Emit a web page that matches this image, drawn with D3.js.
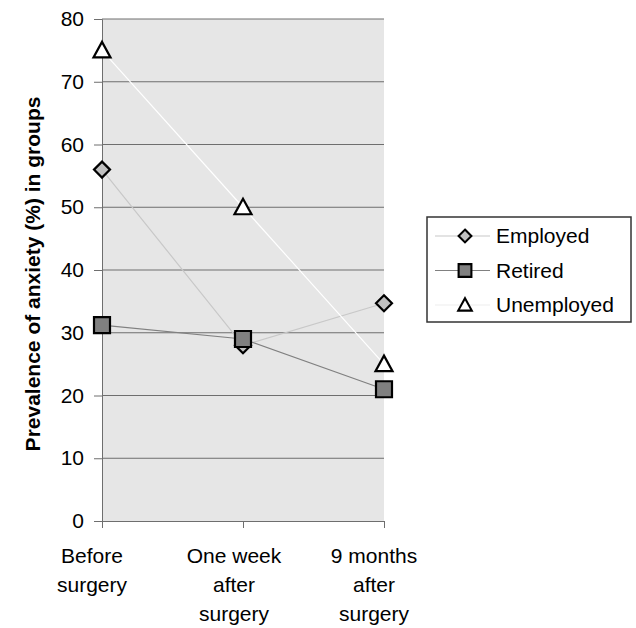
<!DOCTYPE html>
<html>
<head>
<meta charset="utf-8">
<script src="https://cdn.jsdelivr.net/npm/d3@7/dist/d3.min.js"></script>
<style>
  body { margin: 0; background: #fff; }
  svg text { font-family: "Liberation Sans", Arial, sans-serif; fill: #000; }
</style>
</head>
<body>
<svg id="chart" width="636" height="628"></svg>
<script>
// Anxiety prevalence (%) by employment group at three time points
const categories = [
  ["Before", "surgery"],
  ["One week", "after", "surgery"],
  ["9 months", "after", "surgery"]
];
const employed   = [56, 28, 34.7];
const retired    = [31.2, 29, 21];
const unemployed = [75, 50, 25];
const yTicks = [0, 10, 20, 30, 40, 50, 60, 70, 80];

const series = [
  { name: "Employed",   values: employed,   line: "#c8c8c8", fill: "#c0c0c0", shape: "diamond" },
  { name: "Retired",    values: retired,    line: "#808080", fill: "#808080", shape: "square" },
  { name: "Unemployed", values: unemployed, line: "#ffffff", fill: "#ffffff", shape: "triangle" }
];

const svg = d3.select("#chart");
const plot = { left: 102, right: 384, top: 19, bottom: 521 };
const fontSize = 21;

const x = d3.scalePoint()
  .domain(d3.range(categories.length))
  .range([plot.left, plot.right]);
const y = d3.scaleLinear().domain([0, 80]).range([plot.bottom, plot.top]);

// plot background
svg.append("rect")
  .attr("x", plot.left).attr("y", plot.top)
  .attr("width", plot.right - plot.left).attr("height", plot.bottom - plot.top)
  .attr("fill", "#e6e6e6");

// horizontal gridlines
svg.append("g").selectAll("line").data(yTicks.filter(d => d > 0)).join("line")
  .attr("x1", plot.left).attr("x2", plot.right)
  .attr("y1", d => y(d)).attr("y2", d => y(d))
  .attr("stroke", "#6e6e6e").attr("stroke-width", 1);

// y axis
const yAxis = svg.append("g")
  .attr("transform", `translate(${plot.left},0)`)
  .call(d3.axisLeft(y).tickValues(yTicks).tickSize(8).tickPadding(10));
yAxis.select(".domain").attr("stroke", "#6e6e6e");
yAxis.selectAll(".tick line").attr("stroke", "#6e6e6e");
yAxis.selectAll(".tick text").attr("font-size", fontSize).attr("fill", "#000");

// x axis
const xAxis = svg.append("g")
  .attr("transform", `translate(0,${plot.bottom})`)
  .call(d3.axisBottom(x).tickSize(7).tickSizeOuter(0).tickFormat(""));
xAxis.select(".domain").attr("stroke", "#6e6e6e");
xAxis.selectAll(".tick line").attr("stroke", "#6e6e6e");

const labelShift = [-10, -9, -10];
const xl = svg.append("g").selectAll("text").data(categories).join("text")
  .attr("text-anchor", "middle")
  .attr("font-size", fontSize)
  .attr("x", (d, i) => x(i) + labelShift[i])
  .attr("y", plot.bottom + 42);
xl.selectAll("tspan").data(d => d).join("tspan")
  .attr("x", function () { return d3.select(this.parentNode).attr("x"); })
  .attr("dy", (d, i) => i === 0 ? 0 : 29)
  .text(d => d);

// y axis title
svg.append("text")
  .attr("transform", `translate(40,${(plot.top + plot.bottom) / 2 + 4}) rotate(-90)`)
  .attr("text-anchor", "middle")
  .attr("font-size", 21)
  .attr("font-weight", "bold")
  .text("Prevalence of anxiety (%) in groups");

// marker path generators
function markerPath(shape) {
  if (shape === "diamond") return "M0,-8L8,0L0,8L-8,0Z";
  if (shape === "square") return "M-8,-8H8V8H-8Z";
  return "M0,-8.5L8.5,7L-8.5,7Z";
}

const line = d3.line().x((d, i) => x(i)).y(d => y(d));

series.forEach(s => {
  svg.append("path")
    .attr("d", line(s.values))
    .attr("fill", "none")
    .attr("stroke", s.line)
    .attr("stroke-width", 1.2);
});
series.forEach(s => {
  svg.append("g").selectAll("path").data(s.values).join("path")
    .attr("transform", (d, i) => `translate(${x(i)},${y(d)})`)
    .attr("d", markerPath(s.shape))
    .attr("fill", s.fill)
    .attr("stroke", "#000")
    .attr("stroke-width", 2.2)
    .attr("stroke-linejoin", "miter");
});

// legend
const legend = svg.append("g").attr("transform", "translate(427,217)");
legend.append("rect")
  .attr("x", 0).attr("y", 0).attr("width", 204).attr("height", 105)
  .attr("fill", "#fff").attr("stroke", "#333").attr("stroke-width", 1.5);
const items = legend.selectAll("g.item").data(series).join("g")
  .attr("class", "item")
  .attr("transform", (d, i) => `translate(0,${19 + i * 34.5})`);
items.append("line")
  .attr("x1", 8).attr("x2", 63)
  .attr("stroke", d => d.line === "#ffffff" ? "#eeeeee" : d.line)
  .attr("stroke-width", 1.2);
items.append("path")
  .attr("transform", "translate(38,0) scale(0.8)")
  .attr("d", d => markerPath(d.shape))
  .attr("fill", d => d.fill)
  .attr("stroke", "#000")
  .attr("stroke-width", 2.6);
items.append("text")
  .attr("x", 69).attr("dy", "0.35em")
  .attr("font-size", fontSize)
  .text(d => d.name);
</script>
</body>
</html>
